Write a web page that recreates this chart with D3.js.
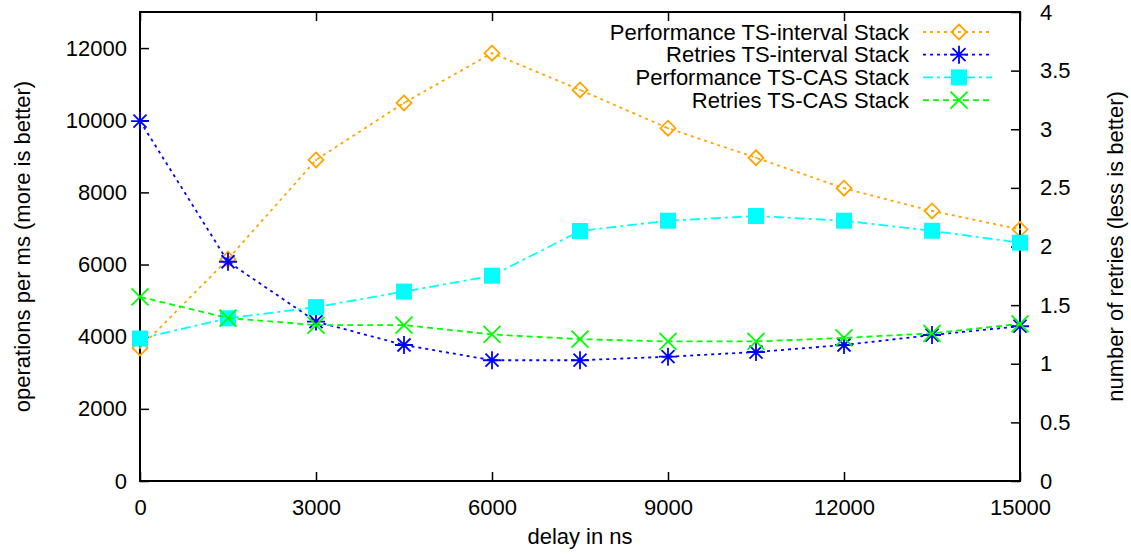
<!DOCTYPE html>
<html>
<head>
<meta charset="UTF-8">
<title>Stack performance vs delay</title>
<style>
    body { margin: 0; background: #fff; font-family: "Liberation Sans", Arial, sans-serif; }
    svg text { font-family: "Liberation Sans", Arial, sans-serif; fill: #000; }
</style>
</head>
<body>
<div id="chart"></div>
<script src="https://d3js.org/d3.v7.min.js"></script>
<script>
// delay (ns)
const delays = [0, 1500, 3000, 4500, 6000, 7500, 9000, 10500, 12000, 13500, 15000];
// operations per ms (left axis)
const perfInterval = [3690, 6150, 8900, 10480, 11860, 10840, 9780, 8960, 8115, 7485, 6975];
const perfCAS = [3950, 4510, 4820, 5250, 5690, 6930, 7215, 7345, 7215, 6935, 6605];
// number of retries (right axis)
const retriesInterval = [3.07, 1.87, 1.36, 1.16, 1.03, 1.03, 1.06, 1.10, 1.16, 1.245, 1.32];
const retriesCAS = [1.57, 1.39, 1.33, 1.33, 1.25, 1.21, 1.19, 1.19, 1.22, 1.26, 1.34];

const xTicks = [0, 3000, 6000, 9000, 12000, 15000];
const yLeftTicks = [0, 2000, 4000, 6000, 8000, 10000, 12000];
const yRightTicks = [0, 0.5, 1, 1.5, 2, 2.5, 3, 3.5, 4];

const series = [
    { name: "Performance TS-interval Stack", values: perfInterval, axis: "left", color: "#ffa500", dash: "3,4", marker: "diamond" },
    { name: "Retries TS-interval Stack", values: retriesInterval, axis: "right", color: "#0000ff", dash: "3,4", marker: "star" },
    { name: "Performance TS-CAS Stack", values: perfCAS, axis: "left", color: "#00ffff", dash: "10,4,3,4", marker: "square" },
    { name: "Retries TS-CAS Stack", values: retriesCAS, axis: "right", color: "#00ff00", dash: "6,4", marker: "cross" }
];

const width = 1131, height = 554;
const margin = { top: 12, right: 111, bottom: 73, left: 140 };
const iw = width - margin.left - margin.right;
const ih = height - margin.top - margin.bottom;

const svg = d3.select("#chart").append("svg")
    .attr("width", width).attr("height", height);

const g = svg.append("g").attr("transform", `translate(${margin.left},${margin.top})`);

const x = d3.scaleLinear().domain([0, 15000]).range([0, iw]);
const yL = d3.scaleLinear().domain([0, 13000]).range([ih, 0]);
const yR = d3.scaleLinear().domain([0, 4]).range([ih, 0]);

const tickLen = 9;
const fontSize = 22;

// axes (ticks inward, gnuplot style)
const xAxis = g.append("g").attr("transform", `translate(0,${ih})`)
    .call(d3.axisBottom(x).tickValues(xTicks).tickFormat(d3.format("d")).tickSize(-tickLen).tickPadding(26));
const xTop = g.append("g")
    .call(d3.axisTop(x).tickValues(xTicks).tickSize(-tickLen).tickFormat(""));
const yAxisL = g.append("g")
    .call(d3.axisLeft(yL).tickValues(yLeftTicks).tickFormat(d3.format("d")).tickSize(-tickLen).tickPadding(13));
const yAxisR = g.append("g").attr("transform", `translate(${iw},0)`)
    .call(d3.axisRight(yR).tickValues(yRightTicks).tickFormat(d3.format("")).tickSize(-tickLen).tickPadding(20));

[xAxis, xTop, yAxisL, yAxisR].forEach(a => {
    a.select(".domain").remove();
    a.selectAll(".tick line").attr("stroke", "#000").attr("stroke-width", 1.5);
    a.selectAll(".tick text").style("font-size", fontSize + "px").attr("fill", "#000");
});
xAxis.selectAll(".tick text").attr("dy", "0.35em");

// frame
g.append("rect").attr("x", 0).attr("y", 0).attr("width", iw).attr("height", ih)
    .attr("fill", "none").attr("stroke", "#000").attr("stroke-width", 2);

// axis titles
svg.append("text")
    .attr("transform", `translate(${margin.left + iw / 2},${height - 10})`)
    .attr("text-anchor", "middle").style("font-size", fontSize + "px")
    .text("delay in ns");
svg.append("text")
    .attr("transform", `translate(30,${margin.top + ih / 2}) rotate(-90)`)
    .attr("text-anchor", "middle").style("font-size", fontSize + "px")
    .text("operations per ms (more is better)");
svg.append("text")
    .attr("transform", `translate(1123,${margin.top + ih / 2}) rotate(-90)`)
    .attr("text-anchor", "middle").style("font-size", fontSize + "px")
    .text("number of retries (less is better)");

function drawMarker(sel, type, color) {
    if (type === "diamond") {
        sel.append("path").attr("d", "M0,-7.5L7.5,0L0,7.5L-7.5,0Z")
            .attr("fill", "none").attr("stroke", color).attr("stroke-width", 1.8);
        sel.append("circle").attr("r", 1).attr("fill", color);
    } else if (type === "star") {
        sel.append("path").attr("d", "M-9,0H9M0,-9V9M-6.5,-6.5L6.5,6.5M-6.5,6.5L6.5,-6.5")
            .attr("stroke", color).attr("stroke-width", 1.8);
    } else if (type === "square") {
        sel.append("rect").attr("x", -8).attr("y", -8).attr("width", 16).attr("height", 16)
            .attr("fill", color);
    } else if (type === "cross") {
        sel.append("path").attr("d", "M-8.5,-8.5L8.5,8.5M-8.5,8.5L8.5,-8.5")
            .attr("stroke", color).attr("stroke-width", 1.8);
    }
}

series.forEach(s => {
    const ys = s.axis === "left" ? yL : yR;
    const line = d3.line().x((d, i) => x(delays[i])).y(d => ys(d));
    g.append("path").datum(s.values)
        .attr("d", line)
        .attr("fill", "none")
        .attr("stroke", s.color)
        .attr("stroke-width", 1.8)
        .attr("stroke-dasharray", s.dash);
    g.selectAll(null).data(s.values).enter().append("g")
        .attr("transform", (d, i) => `translate(${x(delays[i])},${ys(d)})`)
        .each(function () { drawMarker(d3.select(this), s.marker, s.color); });
});

// legend
const legend = svg.append("g").attr("transform", "translate(909,32)");
series.forEach((s, i) => {
    const row = legend.append("g").attr("transform", `translate(0,${i * 22.7})`);
    row.append("text").attr("text-anchor", "end").attr("dy", "0.35em")
        .style("font-size", fontSize + "px").text(s.name);
    row.append("line").attr("x1", 14).attr("x2", 83).attr("y1", 0).attr("y2", 0)
        .attr("stroke", s.color).attr("stroke-width", 1.8).attr("stroke-dasharray", s.dash);
    const m = row.append("g").attr("transform", "translate(50,0)");
    drawMarker(m, s.marker, s.color);
});
</script>
</body>
</html>
